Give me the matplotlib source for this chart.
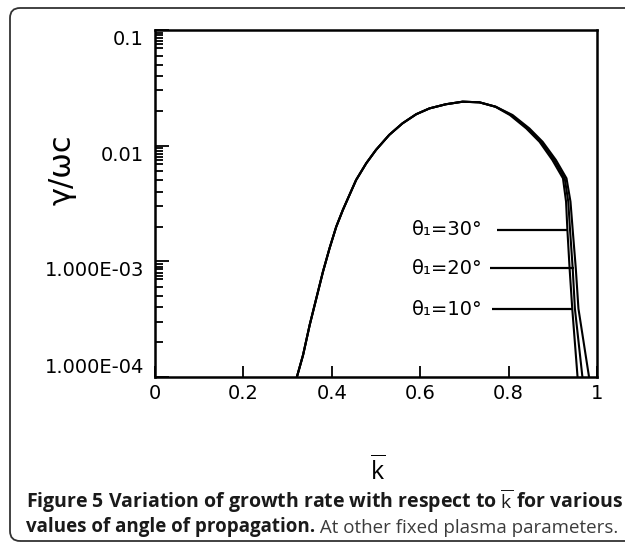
import numpy as np
import matplotlib
matplotlib.use("Agg")
import matplotlib.pyplot as plt
from matplotlib.ticker import FixedLocator, NullFormatter
from matplotlib.patches import FancyBboxPatch
from matplotlib.transforms import IdentityTransform

# rising part, shared by all three curves
k_rise = [0.321, 0.335, 0.350, 0.365, 0.380, 0.395, 0.410, 0.425, 0.440, 0.455, 0.478,
          0.500, 0.530, 0.560, 0.591, 0.621, 0.658, 0.696, 0.734]
g_rise = [1.0e-4, 1.55e-4, 2.82e-4, 4.79e-4, 8.13e-4, 1.30e-3, 1.99e-3, 2.78e-3, 3.75e-3,
          5.05e-3, 7.05e-3, 9.19e-3, 1.24e-2, 1.56e-2, 1.87e-2, 2.10e-2, 2.28e-2, 2.40e-2, 2.37e-2]

# falling part, one per angle (same growth-rate levels, different k)
g_fall = [2.17e-2, 1.84e-2, 1.41e-2, 1.08e-2, 7.52e-3, 5.22e-3, 3.28e-3, 1.87e-3, 8.7e-4, 3.9e-4, 1.0e-4]
k_fall_30 = [0.770, 0.803, 0.840, 0.870, 0.899, 0.923, 0.930, 0.933, 0.938, 0.944, 0.956]
k_fall_20 = [0.771, 0.809, 0.847, 0.877, 0.907, 0.931, 0.940, 0.945, 0.952, 0.958, 0.982]
k_fall_10 = [0.771, 0.806, 0.843, 0.873, 0.903, 0.927, 0.935, 0.939, 0.945, 0.950, 0.967]

angles = ["30", "20", "10"]
label_g = [1.87e-3, 8.7e-4, 3.85e-4]
line_k0 = [0.774, 0.758, 0.762]
line_k1 = [0.933, 0.948, 0.944]

x_ticks = [0, 0.2, 0.4, 0.6, 0.8, 1]
x_ticklabels = ["0", "0.2", "0.4", "0.6", "0.8", "1"]
y_ticks = [1e-4, 1e-3, 1e-2, 1e-1]
y_ticklabels = ["1.000E-04", "1.000E-03", "0.01", "0.1"]
minor_mult = [2, 3, 4, 5, 6, 7, 7.5, 8, 8.5, 9, 9.5]

plt.rcParams['font.family'] = ['DejaVu Sans']
plt.rcParams['mathtext.fontset'] = 'custom'
plt.rcParams['mathtext.rm'] = 'Open Sans'

fig = plt.figure(figsize=(6.25, 5.42), dpi=100)
ax = fig.add_axes([155 / 625, 1 - 377 / 542, 442 / 625, 347 / 542])

for kf in [k_fall_30, k_fall_20, k_fall_10]:
    ax.plot(k_rise + kf, g_rise + g_fall, color='black', lw=1.5)

for ang, gy, k0, k1 in zip(angles, label_g, line_k0, line_k1):
    ax.hlines(gy, k0, k1, color='black', lw=1.6)
    ax.text(0.742, gy, "θ\u2081=" + ang + "°", ha='right', va='center', fontsize=14)

ax.set_yscale('log')
ax.set_xlim(0, 1)
ax.set_ylim(1e-4, 0.1)
ax.set_xticks(x_ticks)
ax.set_xticklabels(x_ticklabels, fontsize=14)
ax.yaxis.set_major_locator(FixedLocator(y_ticks))
ax.set_yticklabels(y_ticklabels, fontsize=14)
minors = [m * d for d in [1e-4, 1e-3, 1e-2] for m in minor_mult]
ax.yaxis.set_minor_locator(FixedLocator(minors))
ax.yaxis.set_minor_formatter(NullFormatter())
ax.tick_params(axis='y', which='major', direction='in', length=10, width=1.3, pad=8)
ax.tick_params(axis='y', which='minor', direction='in', length=6, width=1.3)
ax.tick_params(axis='x', which='major', direction='in', length=8, width=1.3, pad=5)
ax.tick_params(axis='x', which='minor', bottom=False)
for i, t in enumerate(ax.yaxis.get_major_ticks()):
    t.label1.set_va('bottom' if i == 0 else 'top')
for s in ax.spines.values():
    s.set_linewidth(1.8)

fig.text(62 / 625, 1 - 170 / 542, "γ/ωc", rotation=90, ha='center', va='center', fontsize=22)
fig.text(378 / 625, 1 - 470 / 542, r"$\overline{\mathrm{k}}$", ha='center', va='center', fontsize=18)

# caption
fig.text(26 / 625, 1 - 508 / 542,
         "Figure 5 Variation of growth rate with respect to $\\overline{\\mathrm{k}}$ for various",
         family='Open Sans', fontsize=14, fontweight='bold', color='#1a1a1a', va='baseline')
t1 = fig.text(26 / 625, 1 - 532 / 542, "values of angle of propagation.",
              family='Open Sans', fontsize=13.5, fontweight='bold', color='#1a1a1a', va='baseline')
ax.annotate(" At other fixed plasma parameters.", xy=(1, 0), xycoords=t1, va='bottom', ha='left',
            family='Open Sans', fontsize=13.5, color='#3c3c3c', annotation_clip=False)

box = FancyBboxPatch((10, 1), 640, 533, boxstyle="round,pad=0,rounding_size=10",
                     transform=IdentityTransform(), fill=False, edgecolor='#333333', lw=1.3)
fig.patches.append(box)

fig.savefig("out.png", dpi=100)
